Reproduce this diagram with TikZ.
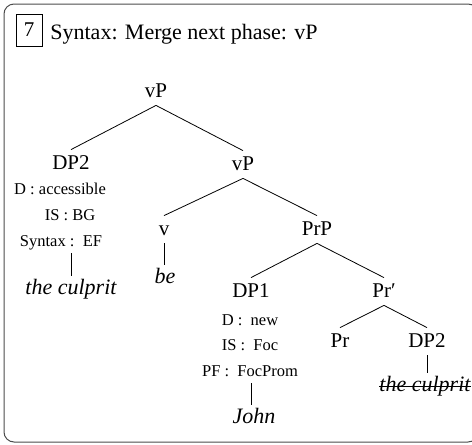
\documentclass[tikz,border=0pt]{standalone}
\usepackage{fontspec}
\setmainfont{Liberation Serif}

\tikzset{
  cat/.style={font=\fontsize{21}{25}\selectfont, anchor=base,
    text height=16pt, text depth=5pt, inner ysep=3pt},
  feat/.style={font=\fontsize{16.5}{20}\selectfont, anchor=base,
    text height=12pt, text depth=4pt, inner ysep=3pt},
  word/.style={font=\fontsize{22}{26}\selectfont\itshape, anchor=base,
    text height=15pt, text depth=5pt, inner ysep=3pt},
}

\begin{document}
\begin{tikzpicture}[x=1pt,y=-1pt,line width=.8pt]

        \useasboundingbox (0,0) rectangle (472,445);
        \draw[rounded corners=10pt, line width=1pt, black!70] (4,4) rectangle (478,442);

        % step number and heading
        \node[draw, minimum width=26pt, minimum height=32pt, inner sep=0pt,
          font=\fontsize{21}{25}\selectfont] (num) at (29,30) {7};
        \node[anchor=base west, inner sep=0pt, font=\fontsize{22}{26}\selectfont]
          (title) at (50,39) {Syntax: Merge next phase: vP};

        \begin{scope}[every node/.style={cat}]
          \node (vp1) at (156,97)  {vP};
          \node (dp2a) at (71,169) {DP2};
          \node (vp2) at (243,170) {vP};
          \node (v)   at (164,235) {v};
          \node (prp) at (317,235) {PrP};
          \node (dp1) at (251,297) {DP1};
          \node (prbar) at (384,297) {Pr′};
          \node (pr)  at (340,347) {Pr};
          \node (dp2b) at (427,347) {DP2};
        \end{scope}

        \begin{scope}[every node/.style={feat}]
          \node (fa1) at (60,194)  {D : accessible};
          \node (fa2) at (70,220)  {IS : BG};
          \node (fa3) at (61,246)  {Syntax :~~EF};
          \node (fb1) at (250,325) {D :~~new};
          \node (fb2) at (250,350) {IS :~~Foc};
          \node (fb3) at (250,376) {PF :~~FocProm};
        \end{scope}

        \begin{scope}[every node/.style={word}]
          \node (culpa) at (71,294)  {the culprit};
          \node (be)    at (165,283) {be};
          \node (john)  at (254,423) {John};
          \node[inner xsep=0pt] (culpb) at (425,391) {the culprit};
        \end{scope}

        \path (vp1.south)   edge (dp2a.north)
              (vp1.south)   edge (vp2.north)
              (vp2.south)   edge (v.north)
              (vp2.south)   edge (prp.north)
              (prp.south)   edge (dp1.north)
              (prp.south)   edge (prbar.north)
              (prbar.south) edge (pr.north)
              (prbar.south) edge (dp2b.north);

        \draw (fa3.south -| dp2a) -- (culpa.north -| dp2a);
        \draw (v.south) -- (be.north -| v);
        \draw (fb3.south -| dp1) -- (john.north -| dp1);
        \draw (dp2b.south) -- (culpb.north -| dp2b);

        % the lower copy is struck out
        \draw[line width=.7pt] ([yshift=5pt]culpb.base west) -- ([yshift=5pt]culpb.base east);

      \end{tikzpicture}
\end{document}
